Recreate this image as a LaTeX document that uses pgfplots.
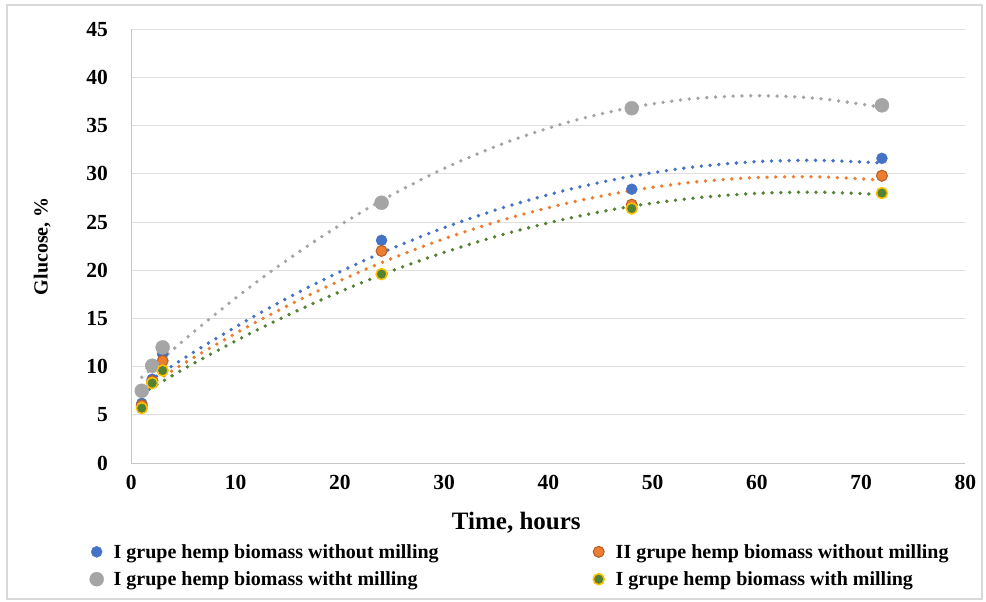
\documentclass[border=0pt]{standalone}
\usepackage{fontspec}
\setmainfont{Liberation Serif}
\usepackage{pgfplots}
\pgfplotsset{compat=1.18}

\definecolor{cblue}{HTML}{4472C4}
\definecolor{corange}{HTML}{ED7D31}
\definecolor{cgray}{HTML}{A5A5A5}
\definecolor{cgreen}{HTML}{548235}
\definecolor{cyellow}{HTML}{FFC000}

\pgfplotsset{
  trend/.style={line width=3.8pt, line cap=round, dash pattern=on 0pt off 8.8pt, smooth, forget plot},
}

\begin{document}
\begin{tikzpicture}[x=1pt,y=1pt]
\useasboundingbox (0,0) rectangle (986,602);
\draw[gray!30, line width=1.5pt] (7,3) rectangle (982,597);
\begin{axis}[
  at={(126,144)}, anchor=south west,
  scale only axis, width=834pt, height=434pt,
  xmin=0, xmax=80, ymin=0, ymax=45,
  xtick={0,10,...,80}, ytick={0,5,...,45},
  axis x line*=bottom, axis y line*=left,
  axis line style={draw=gray!45, line width=0.8pt, -},
  ymajorgrids, grid style={draw=gray!25, line width=0.8pt},
  tick style={draw=none},
  ticklabel style={font=\fontsize{21.5}{23}\selectfont\bfseries},
  /pgf/number format/assume math mode=true,
  yticklabel style={xshift=-20pt},
  xticklabel style={yshift=-9pt},
  xlabel={Time, hours},
  ylabel={Glucose, \%},
  xlabel style={font=\fontsize{25}{27}\selectfont\bfseries,
    at={(axis description cs:0.4616,0)}, anchor=center, yshift=-60pt},
  ylabel style={font=\fontsize{20}{22}\selectfont\bfseries,
    at={(axis description cs:-0.107,0.5)}, anchor=center},
  legend columns=2,
  legend image code/.code={%
    \path[draw=none, fill=none] (-8pt,-7pt) rectangle (15pt,7pt);
    \draw[#1] plot coordinates {(0pt,0pt)};},
  legend style={at={(axis description cs:-0.055,-0.177)}, anchor=north west,
    draw=none, fill=none, font=\fontsize{20}{22}\selectfont\bfseries,
    cells={anchor=west}, row sep=8pt,
    /tikz/every even column/.append style={column sep=150pt}},
]
% trendlines
\addplot[trend, cblue] coordinates {(1,8.0) (6,11.52) (12,15.36) (18,18.79) (24,21.8) (30,24.41) (36,26.60) (42,28.38) (48,29.75) (54,30.71) (60,31.26) (66,31.39) (72,31.12)};
\addplot[trend, corange] coordinates {(1,7.59) (6,10.96) (12,14.64) (18,17.91) (24,20.79) (30,23.26) (36,25.33) (42,27.0) (48,28.27) (54,29.14) (60,29.61) (66,29.68) (72,29.34)};
\addplot[trend, cgray] coordinates {(1,8.9) (6,13.63) (12,18.77) (18,23.30) (24,27.23) (30,30.55) (36,33.27) (42,35.38) (48,36.89) (54,37.80) (60,38.1) (66,37.80) (72,36.89)};
\addplot[trend, cgreen] coordinates {(1,7.21) (6,10.35) (12,13.77) (18,16.83) (24,19.53) (30,21.85) (36,23.81) (42,25.40) (48,26.63) (54,27.48) (60,27.97) (66,28.09) (72,27.85)};
% measured points
\addplot[only marks, mark=*, mark size=5.5pt, mark options={fill=cblue, draw=cblue}]
  coordinates {(1,6.2) (2,8.7) (3,11.3) (24,23.1) (48,28.4) (72,31.6)};
\addplot[only marks, mark=*, mark size=5.5pt, mark options={fill=corange, draw=corange!75!black, line width=1pt}]
  coordinates {(1,6.0) (2,8.5) (3,10.6) (24,22.0) (48,26.8) (72,29.8)};
\addplot[only marks, mark=*, mark size=7pt, mark options={fill=cgray, draw=cgray}]
  coordinates {(1,7.5) (2,10.1) (3,12.0) (24,27.0) (48,36.8) (72,37.1)};
\addplot[only marks, mark=*, mark size=5.5pt, mark options={fill=cgreen, draw=cyellow, line width=1.5pt}]
  coordinates {(1,5.7) (2,8.3) (3,9.6) (24,19.6) (48,26.4) (72,28.0)};
\legend{I grupe hemp biomass without milling, II grupe hemp biomass without milling,
  I grupe hemp biomass witht milling, I grupe hemp biomass with milling}
\end{axis}
\end{tikzpicture}
\end{document}
